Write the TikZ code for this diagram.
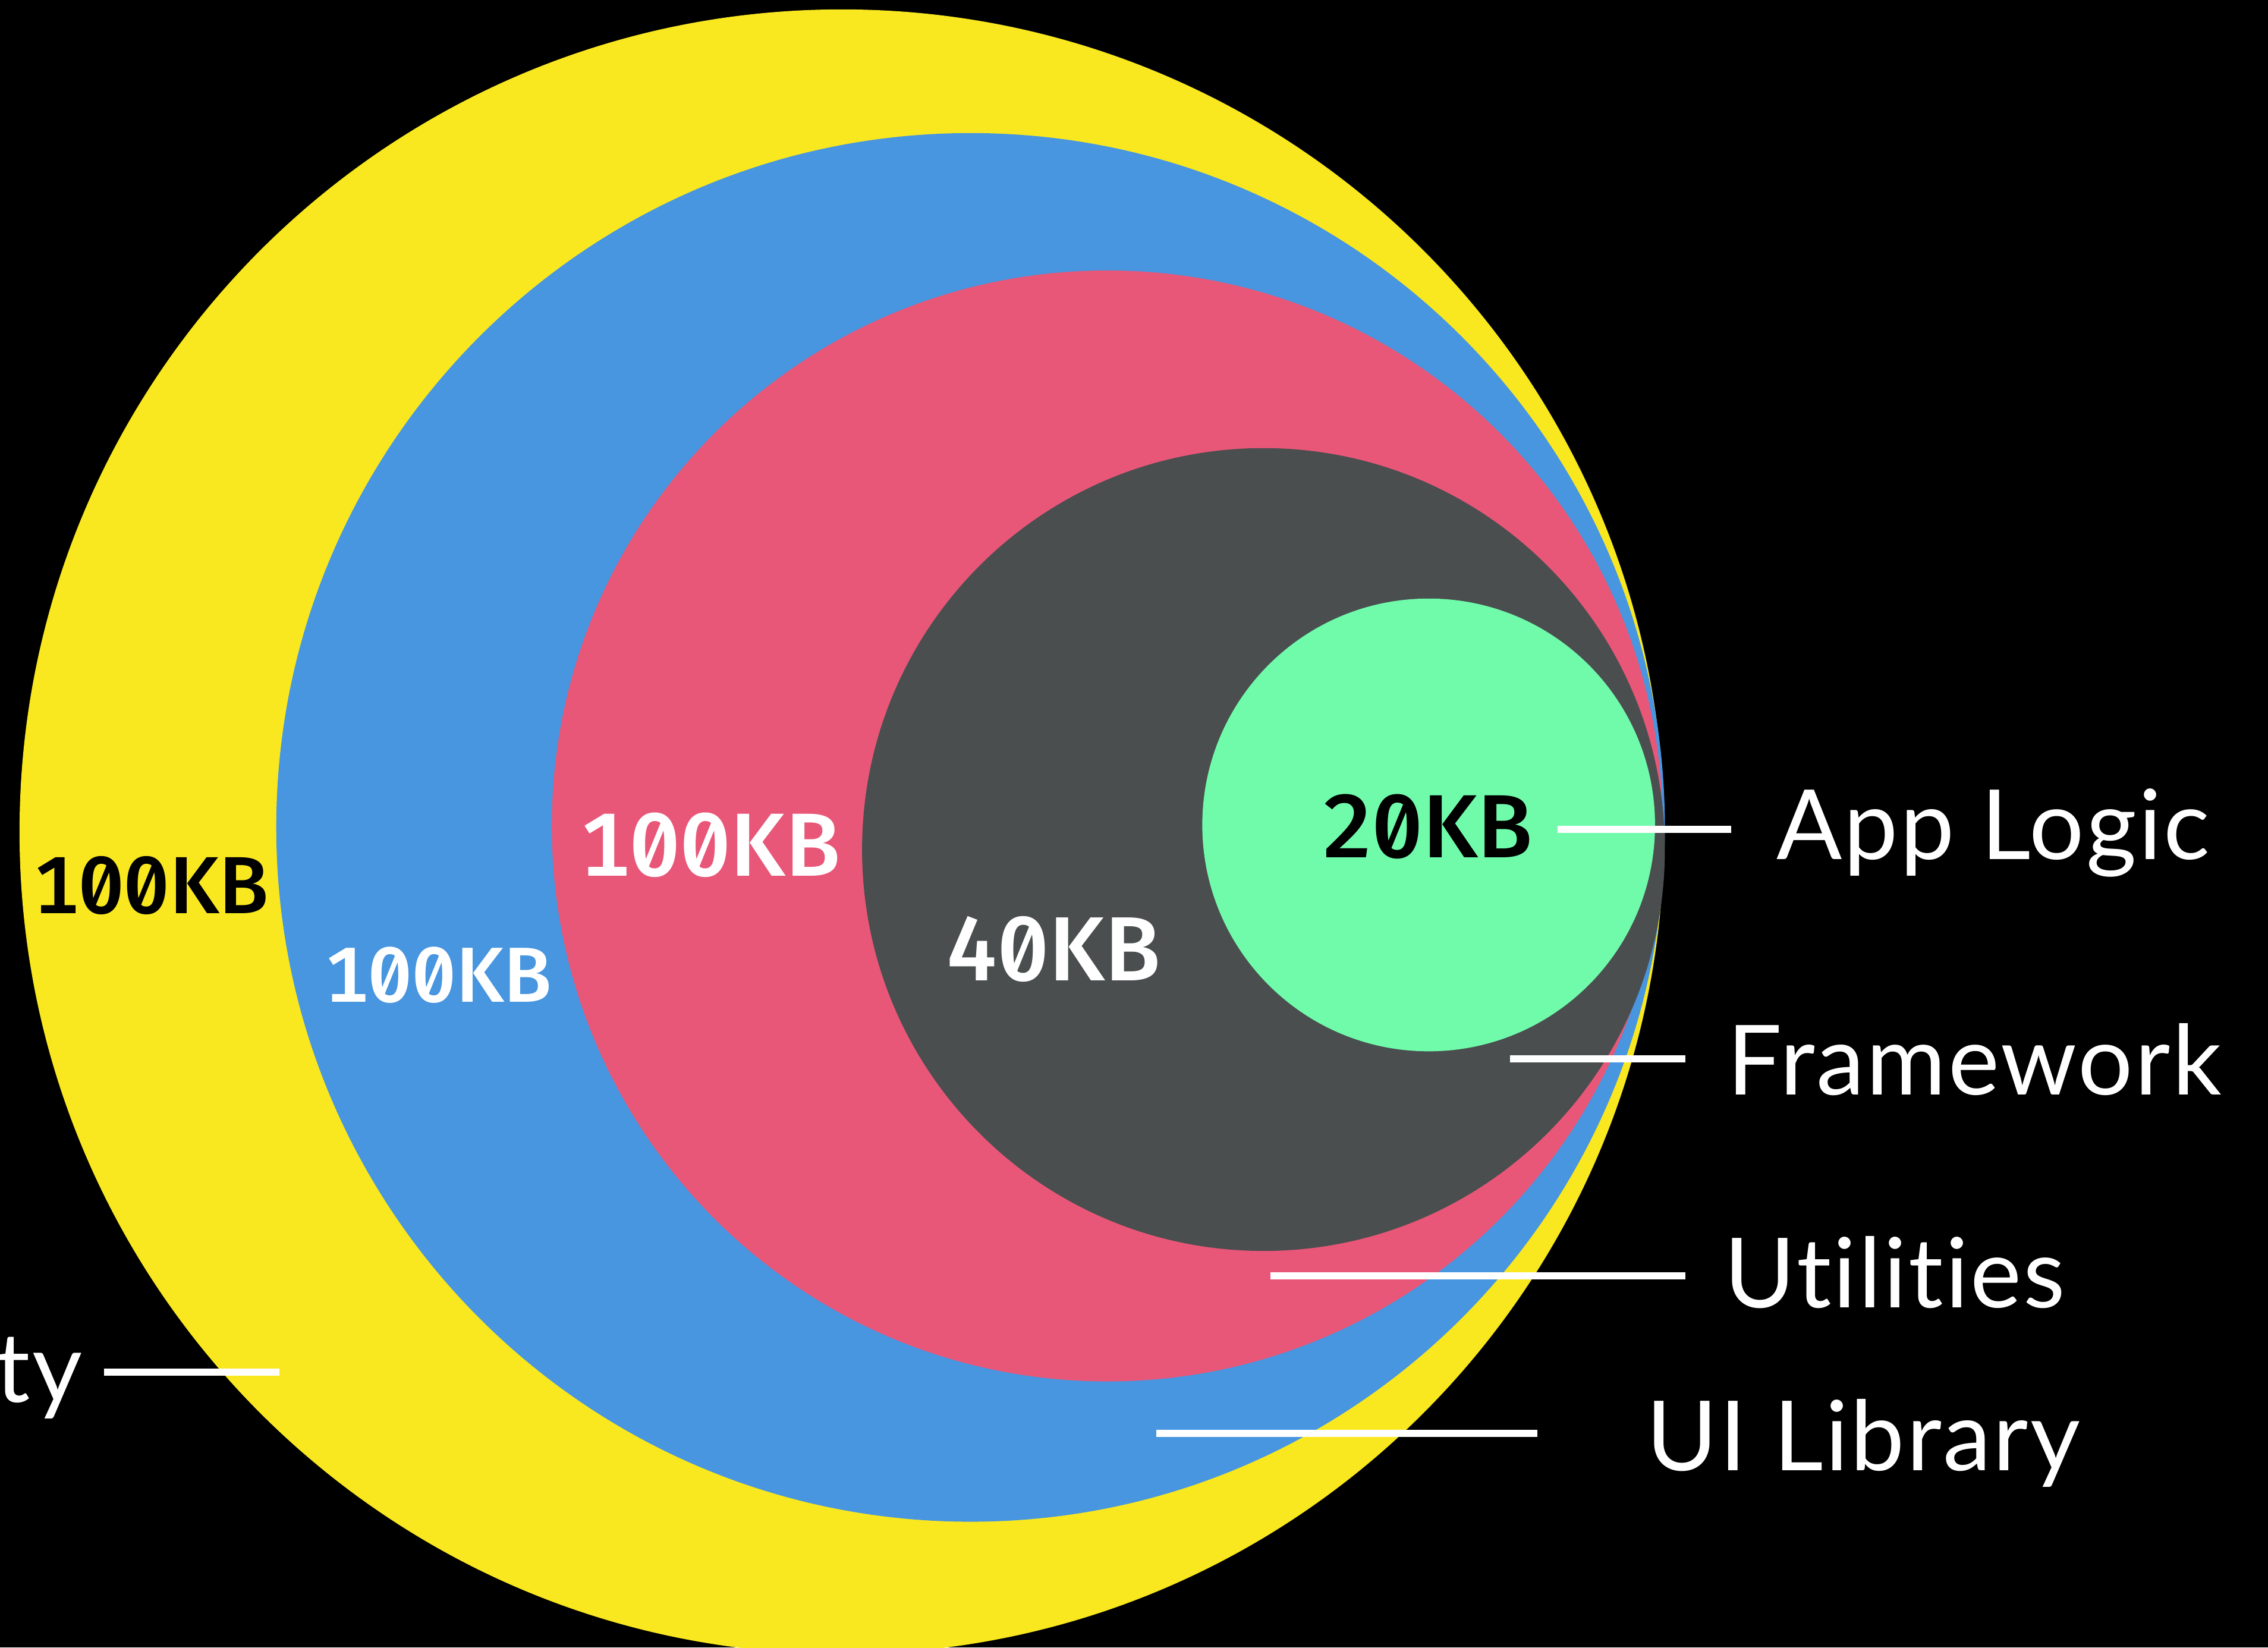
\documentclass[tikz,border=0pt]{standalone}
\usepackage{fontspec}
\setmainfont{Lato}[Ligatures={NoCommon,NoRequired,NoContextual}, LetterSpace=2.0]
\newfontfamily\monofnt{Fira Sans Medium}[Numbers={Monospaced,SlashedZero}]
\definecolor{cyellow}{HTML}{F9E81F}
\definecolor{cblue}{HTML}{4895E0}
\definecolor{cred}{HTML}{E85778}
\definecolor{cgray}{HTML}{4A4E4F}
\definecolor{cgreen}{HTML}{70FBAB}
\tikzset{
  ring/.style={circle, inner sep=0pt, outer sep=0pt, draw=none},
  kb/.style={inner sep=0pt},
  lbl/.style={inner sep=0pt, text=white, font=\fontsize{67}{70}\selectfont},
  leader/.style={draw=white, line width=5pt}
}
\begin{document}
\begin{tikzpicture}[x=1pt,y=-1pt]
\useasboundingbox (0,0) rectangle (1568,1139);
\clip (0,0) rectangle (1568,1139);
\fill[black] (0,0) rectangle (1568,1139);
% circles
\node[ring, fill=cyellow, minimum size=1137pt] (yel) at (582,575) {};
\node[ring, fill=cblue, minimum size=960pt] (blu) at (671,572) {};
\node[ring, fill=cred, minimum size=768pt] (red) at (765.5,571) {};
\node[ring, fill=cgray, minimum size=555pt] (gry) at (873.5,587.3) {};
\node[ring, fill=cgreen, minimum size=313pt] (grn) at (987.7,570.3) {};
% size labels
\node[kb, text=black, font=\monofnt\fontsize{56}{60}\selectfont] (kby) at (104.5,612) {100KB};
\node[kb, text=white, font=\monofnt\fontsize{54}{56}\selectfont] (kbb) at (303,674) {100KB};
\node[kb, text=white, font=\monofnt\fontsize{62}{64}\selectfont] (kbr) at (491,584) {100KB};
\node[kb, text=white, font=\monofnt\fontsize{63}{64}\selectfont] (kbg) at (728.5,656) {40KB};
\node[kb, text=black, font=\monofnt\fontsize{62}{64}\selectfont] (kbn) at (987,571.6) {20KB};
% leader lines
\coordinate (a1) at (1077,573.5); \coordinate (a2) at (1197,573.5);
\coordinate (f1) at (1044,732);   \coordinate (f2) at (1165,732);
\coordinate (u1) at (878.5,882);  \coordinate (u2) at (1165,882);
\coordinate (l1) at (799.5,991);  \coordinate (l2) at (1063,991);
\coordinate (t1) at (72,948.5);   \coordinate (t2) at (193,948.5);
\draw[leader] (a1) -- (a2);
\draw[leader] (f1) -- (f2);
\draw[leader] (u1) -- (u2);
\draw[leader] (l1) -- (l2);
\draw[leader] (t1) -- (t2);
% labels
\node[lbl, anchor=base west] (tapp) at (1228,594) {App Logic};
\node[lbl, anchor=base west] (tfrm) at (1194,757) {Framework};
\node[lbl, anchor=base west] (tuti) at (1192,904) {Utilities};
\node[lbl, anchor=base west] (tuil) at (1138,1016.5) {UI Library};
\node[lbl, anchor=base east] (tthp) at (57,969.5) {ty};
\end{tikzpicture}
\end{document}
